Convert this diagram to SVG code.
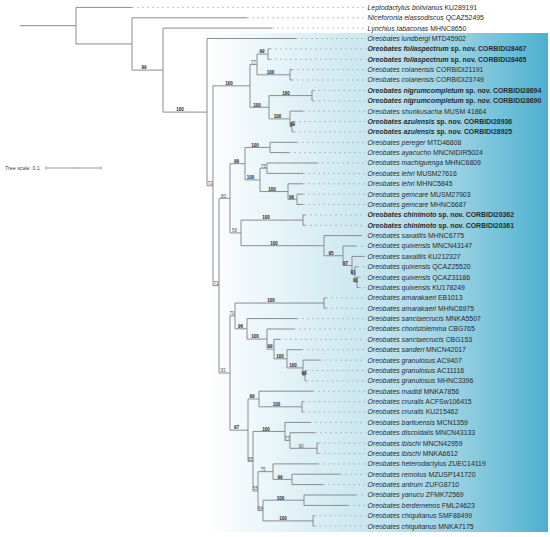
<svg xmlns="http://www.w3.org/2000/svg" width="550" height="537" viewBox="0 0 550 537">
<defs>
<linearGradient id="bg" x1="0" y1="0" x2="1" y2="0">
<stop offset="0" stop-color="#ffffff"/>
<stop offset="0.25" stop-color="#e2f2f7"/>
<stop offset="0.5" stop-color="#c6e5ee"/>
<stop offset="0.75" stop-color="#94cfe1"/>
<stop offset="1" stop-color="#4cb0cf"/>
</linearGradient>
<style>
.br{fill:none;stroke:#8c8c8c;stroke-width:1}
.ds{fill:none;stroke:#a8a8a8;stroke-width:0.7;stroke-dasharray:2 3}
.t{font-family:"Liberation Sans",Arial,sans-serif;font-size:6.9px;fill:#2a2a2a}
.i{font-style:italic}
.b{font-weight:bold}
.bs{font-family:"Liberation Sans",Arial,sans-serif;font-size:4.5px;font-weight:bold;fill:#222;text-anchor:middle}
.bn{font-family:"Liberation Sans",Arial,sans-serif;font-size:4.5px;fill:#555;text-anchor:middle}
.sc{font-family:"Liberation Sans",Arial,sans-serif;font-size:5.3px;fill:#444}
</style>
</defs>
<rect id="highlight" x="205" y="33" width="343" height="499" fill="url(#bg)"/>
<g id="connectors">
<path class="br" d="M20 25.7H76M76 7.4V43.95M76 7.4H132M76 43.95H132M132 17.8V70.1M132 17.8H247M132 70.1H163M163 28.1V112.1M163 28.1H272M163 112.1H207M207 38.5V185.75M207 38.5H296M207 185.75H213M213 85.85V285.65M213 85.85H250M250 64.45V107.25M250 64.45H257M257 54.1V74.8M257 54.1H268M268 48.9V59.3M268 48.9H270M268 59.3H270M257 74.8H290M290 69.6V80M290 69.6H292M290 80H292M250 107.25H269M269 95.6V118.9M269 95.6H312M312 90.4V100.8M312 90.4H313.5M312 100.8H313.5M269 118.9H290M290 111.1V126.7M290 111.1H303M290 126.7H292M292 121.5V131.9M292 121.5H294M292 131.9H294"/>
<path class="br" d="M213 285.65H219M219 198.3V373M219 198.3H230M230 163.7V232.9M230 163.7H245M245 147.45V179.9M245 147.45H270M270 142.3V152.6M270 142.3H297M270 152.6H289M245 179.9H260M260 168.2V191.55M260 168.2H267M267 163V173.4M267 163H317M267 173.4H303M260 191.55H288M288 183.8V199.3M288 183.8H303M288 199.3H297M297 194.1V204.5M297 194.1H303M297 204.5H303M230 232.9H241M241 220.1V245.7M241 220.1H303M303 214.9V225.3M303 214.9H305M303 225.3H305M241 245.7H324M324 235.6V255.75M324 235.6H362M324 255.75H343M343 246V265.5M343 246H356M343 265.5H352M352 256.4V274.55M352 256.4H365M352 274.55H355M355 266.8V282.3M355 266.8H358M355 282.3H357M357 277.1V287.5M357 277.1H359M357 287.5H359"/>
<path class="br" d="M219 373H230M230 315.9V430.15M230 315.9H235M235 303.05V328.8M235 303.05H324M324 297.9V308.2M324 297.9H326M324 308.2H326M235 328.8H247M247 318.6V339.05M247 318.6H297M247 339.05H267M267 329V349.1M267 329H294M267 349.1H274M274 339.4V358.8M274 339.4H280M274 358.8H287M287 349.7V367.9M287 349.7H302M287 367.9H303M303 360.1V375.7M303 360.1H320M303 375.7H305M305 370.5V380.9M305 370.5H306.5M305 380.9H306.5"/>
<path class="br" d="M230 430.15H248M248 399V461.3M248 399H259M259 391.2V406.8M259 391.2H313M259 406.8H302M302 401.6V412M302 401.6H303.5M302 412H303.5M248 461.3H253M253 431.45V491.1M253 431.45H285M285 422.4V440.5M285 422.4H310M285 440.5H290M290 432.7V448.3M290 432.7H315M290 448.3H317M317 443.1V453.5M317 443.1H318.5M317 453.5H318.5M253 491.1H258M258 471.65V510.55M258 471.65H273M273 463.9V479.4M273 463.9H318M273 479.4H292M292 474.2V484.6M292 474.2H340M292 484.6H323M258 510.55H263M263 500.2V520.9M263 500.2H304M304 495V505.4M304 495H356M304 505.4H348M263 520.9H313M313 515.7V526.1M313 515.7H314.5M313 526.1H314.5"/>
<path class="ds" d="M132 7.4H365M247 17.8H365M272 28.1H365M296 38.5H365M270 48.9H365M270 59.3H365M292 69.6H365M292 80H365M313.5 90.4H365M313.5 100.8H365M303 111.1H365M294 121.5H365M294 131.9H365M297 142.3H365M289 152.6H365M317 163H365M303 173.4H365M303 183.8H365M303 194.1H365M303 204.5H365M305 214.9H365M305 225.3H365M356 246H365M358 266.8H365M359 277.1H365M359 287.5H365M326 297.9H365M326 308.2H365M297 318.6H365M294 329H365M280 339.4H365M302 349.7H365M320 360.1H365M306.5 370.5H365M306.5 380.9H365M313 391.2H365M303.5 401.6H365M303.5 412H365M310 422.4H365M315 432.7H365M318.5 443.1H365M318.5 453.5H365M318 463.9H365M340 474.2H365M323 484.6H365M356 495H365M348 505.4H365M314.5 515.7H365M314.5 526.1H365"/>
</g>
<g id="support">
<text class="bs" x="144" y="69.4">99</text>
<text class="bs" x="180" y="111.4">100</text>
<text class="bs" x="229" y="85.1">100</text>
<text class="bn" x="253.5" y="63.7">77</text>
<text class="bs" x="262" y="53.4">99</text>
<text class="bs" x="270.5" y="74.1">100</text>
<text class="bs" x="257" y="106.5">100</text>
<text class="bs" x="286" y="94.9">100</text>
<text class="bs" x="277.5" y="118.2">100</text>
<text class="bs" x="292.5" y="126">99</text>
<text class="bn" x="210" y="185">73</text>
<text class="bn" x="216" y="284.9">73</text>
<text class="bn" x="223.5" y="197.6">80</text>
<text class="bs" x="236.5" y="163">99</text>
<text class="bs" x="255" y="146.7">100</text>
<text class="bs" x="250.5" y="179.2">100</text>
<text class="bn" x="263.5" y="167.5">75</text>
<text class="bs" x="272" y="190.8">100</text>
<text class="bs" x="291.5" y="198.6">96</text>
<text class="bn" x="234.5" y="232.2">59</text>
<text class="bs" x="266" y="219.4">100</text>
<text class="bs" x="274" y="245">100</text>
<text class="bs" x="331" y="255">95</text>
<text class="bs" x="345.5" y="264.8">97</text>
<text class="bs" x="353" y="273.8">91</text>
<text class="bs" x="355.5" y="281.6">91</text>
<text class="bn" x="223" y="372.3">93</text>
<text class="bn" x="232" y="315.2">70</text>
<text class="bs" x="271" y="302.3">100</text>
<text class="bs" x="240.5" y="328.1">96</text>
<text class="bs" x="255" y="338.3">100</text>
<text class="bs" x="270" y="348.4">99</text>
<text class="bs" x="280" y="358.1">100</text>
<text class="bs" x="293" y="367.2">100</text>
<text class="bs" x="304" y="375">99</text>
<text class="bs" x="236.5" y="429.4">97</text>
<text class="bs" x="252" y="398.3">99</text>
<text class="bs" x="276.5" y="406.1">100</text>
<text class="bn" x="250.5" y="460.6">85</text>
<text class="bs" x="266" y="430.7">100</text>
<text class="bn" x="287.5" y="439.8">77</text>
<text class="bn" x="301" y="447.6">90</text>
<text class="bn" x="255.5" y="490.4">55</text>
<text class="bn" x="263" y="470.9">75</text>
<text class="bs" x="280" y="478.7">99</text>
<text class="bn" x="260.5" y="509.8">84</text>
<text class="bs" x="280.5" y="499.5">100</text>
<text class="bs" x="283" y="520.2">100</text>
</g>
<g id="scale">
<text class="sc" x="5" y="170">Tree scale: 0.1</text>
<path class="br" d="M46 168H101M46 166.5V169.5M101 166.5V169.5M74 167.3V168.7" style="stroke:#999"/>
</g>
<g id="leaves">
<text id="n0" class="t" x="367.5" y="9.8"><tspan class="i">Leptodactylus bolivianus</tspan> KU289191</text>
<text id="n1" class="t" x="367.5" y="20.2"><tspan class="i">Niceforonia elassodiscus</tspan> QCAZ52495</text>
<text id="n2" class="t" x="367.5" y="30.5"><tspan class="i">Lynchius tabaconas</tspan> MHNC8650</text>
<text id="n3" class="t" x="367.5" y="40.9"><tspan class="i">Oreobates lundbergi</tspan> MTD45902</text>
<text id="n4" class="t b" x="367.5" y="51.3"><tspan class="i">Oreobates foliaspectrum</tspan> sp. nov. CORBIDI28467</text>
<text id="n5" class="t b" x="367.5" y="61.7"><tspan class="i">Oreobates foliaspectrum</tspan> sp. nov. CORBIDI28465</text>
<text id="n6" class="t" x="367.5" y="72"><tspan class="i">Oreobates colanensis</tspan> CORBIDI21191</text>
<text id="n7" class="t" x="367.5" y="82.4"><tspan class="i">Oreobates colanensis</tspan> CORBIDI23749</text>
<text id="n8" class="t b" x="367.5" y="92.8"><tspan class="i">Oreobates nigrumcompletum</tspan> sp. nov. CORBIDI28694</text>
<text id="n9" class="t b" x="367.5" y="103.2"><tspan class="i">Oreobates nigrumcompletum</tspan> sp. nov. CORBIDI28690</text>
<text id="n10" class="t" x="367.5" y="113.5"><tspan class="i">Oreobates shunkusacha</tspan> MUSM 41864</text>
<text id="n11" class="t b" x="367.5" y="123.9"><tspan class="i">Oreobates azulensis</tspan> sp. nov. CORBIDI28936</text>
<text id="n12" class="t b" x="367.5" y="134.3"><tspan class="i">Oreobates azulensis</tspan> sp. nov. CORBIDI28925</text>
<text id="n13" class="t" x="367.5" y="144.7"><tspan class="i">Oreobates pereger</tspan> MTD46808</text>
<text id="n14" class="t" x="367.5" y="155"><tspan class="i">Oreobates ayacucho</tspan> MNCNIDIR5024</text>
<text id="n15" class="t" x="367.5" y="165.4"><tspan class="i">Oreobates machiguenga</tspan> MHNC6809</text>
<text id="n16" class="t" x="367.5" y="175.8"><tspan class="i">Oreobates lehri</tspan> MUSM27616</text>
<text id="n17" class="t" x="367.5" y="186.2"><tspan class="i">Oreobates lehri</tspan> MHNC5845</text>
<text id="n18" class="t" x="367.5" y="196.5"><tspan class="i">Oreobates gemcare</tspan> MUSM27903</text>
<text id="n19" class="t" x="367.5" y="206.9"><tspan class="i">Oreobates gemcare</tspan> MHNC6687</text>
<text id="n20" class="t b" x="367.5" y="217.3"><tspan class="i">Oreobates chinimoto</tspan> sp. nov. CORBIDI20362</text>
<text id="n21" class="t b" x="367.5" y="227.7"><tspan class="i">Oreobates chinimoto</tspan> sp. nov. CORBIDI20361</text>
<text id="n22" class="t" x="367.5" y="238"><tspan class="i">Oreobates saxatilis</tspan> MHNC6775</text>
<text id="n23" class="t" x="367.5" y="248.4"><tspan class="i">Oreobates quixensis</tspan> MNCN43147</text>
<text id="n24" class="t" x="367.5" y="258.8"><tspan class="i">Oreobates saxatilis</tspan> KU212327</text>
<text id="n25" class="t" x="367.5" y="269.2"><tspan class="i">Oreobates quixensis</tspan> QCAZ25520</text>
<text id="n26" class="t" x="367.5" y="279.5"><tspan class="i">Oreobates quixensis</tspan> QCAZ31186</text>
<text id="n27" class="t" x="367.5" y="289.9"><tspan class="i">Oreobates quixensis</tspan> KU178249</text>
<text id="n28" class="t" x="367.5" y="300.3"><tspan class="i">Oreobates amarakaeri</tspan> EB1013</text>
<text id="n29" class="t" x="367.5" y="310.6"><tspan class="i">Oreobates amarakaeri</tspan> MHNC6975</text>
<text id="n30" class="t" x="367.5" y="321"><tspan class="i">Oreobates sanctaecrucis</tspan> MNKA5507</text>
<text id="n31" class="t" x="367.5" y="331.4"><tspan class="i">Oreobates choristolemma</tspan> CBG765</text>
<text id="n32" class="t" x="367.5" y="341.8"><tspan class="i">Oreobates sanctaecrucis</tspan> CBG153</text>
<text id="n33" class="t" x="367.5" y="352.1"><tspan class="i">Oreobates sanderi</tspan> MNCN42017</text>
<text id="n34" class="t" x="367.5" y="362.5"><tspan class="i">Oreobates granulosus</tspan> AC9407</text>
<text id="n35" class="t" x="367.5" y="372.9"><tspan class="i">Oreobates granulosus</tspan> AC11116</text>
<text id="n36" class="t" x="367.5" y="383.3"><tspan class="i">Oreobates granulosus</tspan> MHNC3396</text>
<text id="n37" class="t" x="367.5" y="393.6"><tspan class="i">Oreobates madidi</tspan> MNKA7856</text>
<text id="n38" class="t" x="367.5" y="404"><tspan class="i">Oreobates crurails</tspan> ACFSw106415</text>
<text id="n39" class="t" x="367.5" y="414.4"><tspan class="i">Oreobates crurails</tspan> KU215462</text>
<text id="n40" class="t" x="367.5" y="424.8"><tspan class="i">Oreobates barituensis</tspan> MCN1359</text>
<text id="n41" class="t" x="367.5" y="435.1"><tspan class="i">Oreobates discoidalis</tspan> MNCN43133</text>
<text id="n42" class="t" x="367.5" y="445.5"><tspan class="i">Oreobates ibischi</tspan> MNCN42959</text>
<text id="n43" class="t" x="367.5" y="455.9"><tspan class="i">Oreobates ibischi</tspan> MNKA6612</text>
<text id="n44" class="t" x="367.5" y="466.3"><tspan class="i">Oreobates heterodactylus</tspan> ZUEC14119</text>
<text id="n45" class="t" x="367.5" y="476.6"><tspan class="i">Oreobates remotus</tspan> MZUSP141720</text>
<text id="n46" class="t" x="367.5" y="487"><tspan class="i">Oreobates antrum</tspan> ZUFG8710</text>
<text id="n47" class="t" x="367.5" y="497.4"><tspan class="i">Oreobates yanucu</tspan> ZFMK72569</text>
<text id="n48" class="t" x="367.5" y="507.8"><tspan class="i">Oreobates berdemenos</tspan> FML24623</text>
<text id="n49" class="t" x="367.5" y="518.1"><tspan class="i">Oreobates chiquitanus</tspan> SMF88499</text>
<text id="n50" class="t" x="367.5" y="528.5"><tspan class="i">Oreobates chiquitanus</tspan> MNKA7175</text>
</g>
</svg>
